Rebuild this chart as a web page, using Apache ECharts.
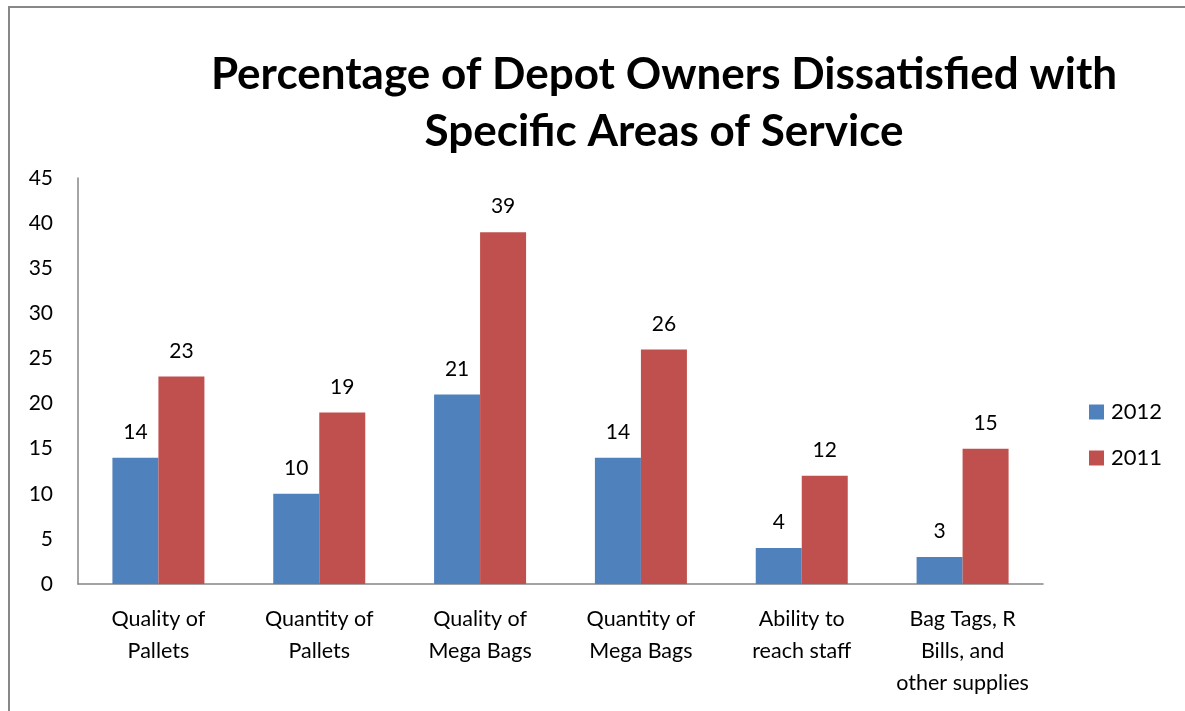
<!DOCTYPE html>
<html><head><meta charset="utf-8">
<script src="https://cdn.jsdelivr.net/npm/echarts@6/dist/echarts.min.js"></script>
<style>html,body{margin:0;padding:0;background:#fff}#c{width:1185px;height:711px}</style>
</head><body><div id="c"></div>
<script>
const categories = ["Quality of\nPallets","Quantity of\nPallets","Quality of\nMega Bags","Quantity of\nMega Bags","Ability to\nreach staff","Bag Tags, R\nBills, and\nother supplies"];
const values2012 = [14,10,21,14,4,3];
const values2011 = [23,19,39,26,12,15];
const seriesNames = ["2012","2011"];
const titleText = "Percentage of Depot Owners Dissatisfied with\nSpecific Areas of Service";
const FONT = "Lato";
const chart = echarts.init(document.getElementById('c'));
const labelStyle = {show:true, position:'top', distance:15, color:'#000', fontFamily:FONT, fontSize:21};
chart.setOption({
  animation:false,
  textStyle:{fontFamily:FONT},
  graphic:[{type:'rect', shape:{x:9, y:7, width:1300, height:900}, style:{fill:'none', stroke:'#888', lineWidth:2}, z:-1}],
  title:{text:titleText, left:659, top:41, textAlign:'center',
    textStyle:{fontFamily:FONT, fontWeight:'bold', fontSize:44, color:'#000', lineHeight:57}},
  legend:{orient:'vertical', left:1084, top:396, itemWidth:15, itemHeight:15, itemGap:24,
    icon:'rect', textStyle:{fontFamily:FONT, fontSize:22, color:'#000', padding:[0,0,0,2]}, data:seriesNames},
  grid:{left:78, right:142, top:178, bottom:127, containLabel:false},
  xAxis:{type:'category', data:categories,
    axisLine:{lineStyle:{color:'#868686', width:1.5}}, axisTick:{show:false},
    axisLabel:{color:'#000', fontFamily:FONT, fontSize:21.5, lineHeight:32, margin:19, interval:0}},
  yAxis:{type:'value', min:0, max:45, interval:5,
    axisLine:{show:true, lineStyle:{color:'#868686', width:1.5}}, axisTick:{show:false}, splitLine:{show:false},
    axisLabel:{color:'#000', fontFamily:FONT, fontSize:21, margin:25}},
  series:[
    {name:seriesNames[0], type:'bar', data:values2012, barWidth:46, barGap:'0%', itemStyle:{color:'#4F81BD'}, label:labelStyle},
    {name:seriesNames[1], type:'bar', data:values2011, barWidth:46, barGap:'0%', itemStyle:{color:'#C0504D'}, label:labelStyle}
  ]
});
</script></body></html>
